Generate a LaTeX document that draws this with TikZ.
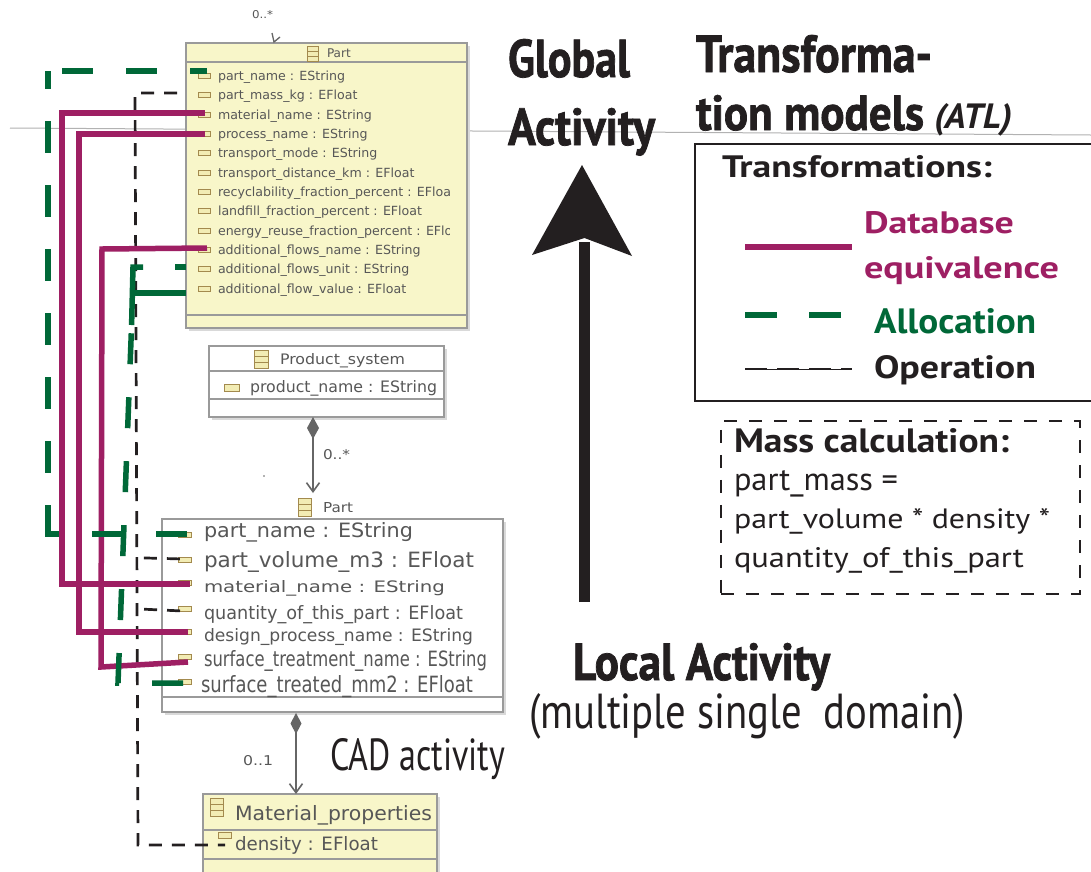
\documentclass[tikz,border=0pt]{standalone}
\usepackage{fontspec}
\usepackage{graphicx}
\setmainfont{DejaVu Sans}
\newfontfamily\umlf{DejaVu Sans}
\newfontfamily\myr{PT Sans}
\newfontfamily\myrh[BoldFeatures={FakeBold=1.5}]{PT Sans}
\usetikzlibrary{arrows.meta,calc,shadows}
\definecolor{dbmag}{HTML}{9E1F63}
\definecolor{algreen}{HTML}{006838}
\definecolor{umlyel}{HTML}{F8F6C9}
\definecolor{umlgray}{HTML}{9A9A9A}
\definecolor{umltext}{HTML}{575757}
\definecolor{iconfill}{HTML}{F2ECB4}
\definecolor{iconedge}{HTML}{A38A4E}
\definecolor{inkblack}{HTML}{231F20}
\newcommand\fitt[3]{\resizebox{#1pt}{#2pt}{#3}}
\begin{document}
\begin{tikzpicture}[x=1pt,y=-1pt,
 txt/.style={anchor=base west, inner sep=0pt, outer sep=0pt},
 uml/.style={txt, text=umltext, font=\umlf\fontsize{12.6}{14}\selectfont},
 umlbox/.style={draw=umlgray, line width=1.6pt, anchor=north west, inner sep=0pt, outer sep=0pt,
   drop shadow={shadow xshift=2.5pt, shadow yshift=-2.5pt, fill=black!15, opacity=1}},
 umlsep/.style={draw=umlgray, line width=1.4pt},
 db/.style={draw=dbmag, line width=5.5pt},
 alloc/.style={draw=algreen, line width=5.5pt, dash pattern=on 31pt off 33pt},
 allocsolid/.style={draw=algreen, line width=5.5pt},
 op/.style={draw=inkblack, line width=2.7pt, dash pattern=on 13pt off 10pt},
 assoc/.style={draw=black!60, line width=1.6pt},
 big/.style={txt, text=inkblack, font=\myr\bfseries},
 heavy/.style={txt, text=inkblack, font=\myrh\bfseries},
 reg/.style={txt, text=inkblack, font=\myr},
 attricon/.pic={\draw[fill=iconfill, draw=iconedge, line width=0.9pt] (-6,-2.8) rectangle (6,2.8);},
 classicon/.pic={\draw[fill=iconfill, draw=iconedge, line width=0.9pt] (-5.5,-7.5) rectangle (5.5,7.5);
   \draw[draw=iconedge, line width=0.9pt] (-5.5,-2.5) -- (5.5,-2.5) (-5.5,2.5) -- (5.5,2.5);}
]
\clip (0,0) rectangle (1091,871);
\fill[white] (0,0) rectangle (1091,871);

% background thin line
\draw[black!30, line width=1pt] (10,128) -- (1091,135);

% ---------- top Part box ----------
\node[umlbox, fill=umlyel, minimum width=281pt, minimum height=285pt] (topPart) at (186,43) {};
\draw[umlsep] (186,62) -- (467,62);
\draw[umlsep] (186,315) -- (467,315);
\pic at (312.5,53.5) {classicon};
\node[uml, font=\umlf\fontsize{12}{14}\selectfont] (tHdr) at (327,57) {Part};
\begin{scope}
\clip (187,63) rectangle (449,314);
\node[uml] (t1) at (218,80) {part\_name : EString};
\node[uml] (t2) at (218,99) {part\_mass\_kg : EFloat};
\node[uml] (t3) at (218,119) {material\_name : EString};
\node[uml] (t4) at (218,138) {process\_name : EString};
\node[uml] (t5) at (218,157) {transport\_mode : EString};
\node[uml] (t6) at (218,177) {transport\_distance\_km : EFloat};
\node[uml] (t7) at (218,196) {recyclability\_fraction\_percent : EFloat};
\node[uml] (t8) at (218,215) {landfill\_fraction\_percent : EFloat};
\node[uml] (t9) at (218,235) {energy\_reuse\_fraction\_percent : EFloat};
\node[uml] (t10) at (218,254) {additional\_flows\_name : EString};
\node[uml] (t11) at (218,273) {additional\_flows\_unit : EString};
\node[uml] (t12) at (218,293) {additional\_flow\_value : EFloat};
\end{scope}
\foreach \yy in {76,95,115,134,153,173,192,211,231,250,269,289}{\pic at (204,\yy) {attricon};}

% ---------- Product_system ----------
\node[umlbox, fill=white, minimum width=235pt, minimum height=71pt] (prodSys) at (209,346) {};
\draw[umlsep] (209,371) -- (444,371);
\draw[umlsep] (209,399) -- (444,399);
\pic[scale=1.2] at (261.5,359) {classicon};
\node[uml] (psHdr) at (280,364) {\fitt{125}{11}{Product\_system}};
\pic[scale=1.25] at (231.5,388) {attricon};
\node[uml] (psAttr) at (250,392) {\fitt{187}{12}{product\_name : EString}};

% ---------- lower Part ----------
\node[umlbox, fill=white, line width=1.3pt, minimum width=341pt, minimum height=193pt] (lowPart) at (162,519) {};
\draw[umlsep, line width=1.2pt] (162,697) -- (503,697);
\pic[scale=1.2] at (305,507) {classicon};
\node[uml] (lpHdr) at (323,512) {\fitt{30}{10}{Part}};
\node[uml] (b1) at (204,537) {\fitt{209}{15}{part\_name : EString}};
\node[uml] (b2) at (204,567) {\fitt{270}{16}{part\_volume\_m3 : EFloat}};
\node[uml] (b3) at (204,592) {\fitt{241}{12}{material\_name : EString}};
\node[uml] (b4) at (204,619) {\fitt{259}{14}{quantity\_of\_this\_part : EFloat}};
\node[uml] (b5) at (204,641) {\fitt{269}{13}{design\_process\_name : EString}};
\node[uml] (b6) at (204,666) {\fitt{283}{16}{surface\_treatment\_name : EString}};
\node[uml] (b7) at (201,692) {\fitt{272}{17}{surface\_treated\_mm2 : EFloat}};
\foreach \yy in {535,560,583,609,632,657,682}{\pic[xscale=1.15] at (185,\yy) {attricon};}

% ---------- Material_properties ----------
\node[umlbox, fill=umlyel, minimum width=234pt, minimum height=95pt] (matProp) at (203,794) {};
\draw[umlsep] (203,830) -- (437,830);
\draw[umlsep] (203,859) -- (437,859);
\pic[scale=1.25] at (217,807.5) {classicon};
\node[uml] (mpHdr) at (235,820) {\fitt{197}{15}{Material\_properties}};
\pic[xscale=1.15] at (225,835.5) {attricon};
\node[uml] (mpAttr) at (235,850) {\fitt{143}{14}{density : EFloat}};

% ---------- associations ----------
\coordinate (psBot) at (313,417);
\coordinate (lpTop) at (313,493);
\draw[assoc, {Diamond[length=22pt,width=12pt]}-{Straight Barb[length=9pt,width=13pt]}] (psBot) -- (lpTop);
\coordinate (lpBot) at (296,713);
\coordinate (mpTop) at (296,794);
\draw[assoc, {Diamond[length=21pt,width=11pt]}-{Straight Barb[length=9pt,width=13pt]}] (lpBot) -- (mpTop);
\coordinate (topArrA) at (272,33);
\coordinate (topArrTip) at (274,42);
\coordinate (topArrB) at (280,37);
\draw[assoc, line width=1.3pt] (topArrA) -- (topArrTip) -- (topArrB);
\node[uml] (m1) at (252,18) {\fitt{21}{8}{0..*}};
\node[uml] (m2) at (323,459) {\fitt{27}{10}{0..*}};
\node[uml] (m3) at (243,765) {\fitt{30}{10}{0..1}};
\fill[black!60] (264,476) circle (0.9);

% ---------- transformation connectors ----------
\coordinate (tPN) at (207,71);
\coordinate (tMK) at (177,93);
\coordinate (tMat) at (205,113);
\coordinate (tProc) at (205,134);
\coordinate (tAFN) at (207,248);
\coordinate (tAFU) at (186,267);
\coordinate (tAFV) at (186,293);
\coordinate (bPN) at (187,534);
\coordinate (bVol) at (183,559);
\coordinate (bMat) at (190,584);
\coordinate (bQty) at (183,611);
\coordinate (bDes) at (188,632);
\coordinate (bSTN) at (188,662);
\coordinate (bSTM) at (183,683);
\coordinate (mDen) at (225,845);
\coordinate (opA) at (135,93);
\coordinate (opB) at (138,845);
\coordinate (alO1) at (48,71);
\coordinate (alO2) at (48,534);
\coordinate (alO3) at (62,71);
\coordinate (alI1) at (133,267);
\coordinate (alI2) at (131.6,325);
\coordinate (alI3) at (118,683);

% operation (black dashed)
\draw[op] (tMK) -- (opA) -- (opB) -- (mDen);
\draw[op, dash phase=16pt] ($(opA)!0.618!(opB)$) -- (bVol);
\draw[op, dash phase=16pt] ($(opA)!0.686!(opB)$) -- (bQty);

% database equivalence (magenta)
\draw[db] (tMat) -- (62,113) |- (bMat);
\draw[db] (tProc) -- (79,134) |- (bDes);
\draw[db] (tAFN) -- (102,249) -- (101,667) -- (bSTN);

% allocation (green dashed), outer
\draw[alloc] (bPN) -- ($(alO2)+(-2.75,0)$);
\draw[alloc, dash pattern=on 32pt off 32pt] ($(alO2)+(0,2.75)$) -- (alO1);
\draw[alloc] (alO3) -- (tPN);
% allocation, inner
\draw[alloc] (bSTM) -- (alI3) -- (alI2);
\draw[allocsolid] (143,267) -- (alI1) -- (alI2);
\draw[allocsolid] (175,267) -- (tAFU);
\draw[allocsolid] (tAFV) -- (132.5,293);

% ---------- right side ----------
\node[heavy] (glob1) at (508,77) {\fitt{122}{38}{Global}};
\node[heavy] (glob2) at (508,145) {\fitt{147}{37}{Activity}};
\node[heavy] (tr1) at (696,72) {\fitt{236}{37}{Transforma-}};
\node[heavy] (tr2) at (696,130) {\fitt{228}{35}{tion models}};
\node[txt, text=inkblack, font=\myr\bfseries\itshape] (atl) at (934,128) {\fitt{78}{25}{(ATL)}};

\coordinate (arrBase) at (584.5,602);
\coordinate (arrNeck) at (584.5,242);
\draw[inkblack, line width=11pt] (arrBase) -- (arrNeck);
\fill[inkblack] (582,165) -- (632,256) -- (584.5,238) -- (532,255) -- cycle;

\node[draw=inkblack, line width=1.8pt, anchor=north west, minimum width=420pt, minimum height=257pt, inner sep=0pt] (legend) at (694,143) {};
\node[big] (trHdr) at (722,177) {\fitt{270}{22}{Transformations:}};
\coordinate (lgDbA) at (745,247);
\coordinate (lgDbB) at (852,247);
\draw[db] (lgDbA) -- (lgDbB);
\node[txt, text=dbmag, font=\myr\bfseries] (dbT1) at (864,233) {\fitt{150}{22}{Database}};
\node[txt, text=dbmag, font=\myr\bfseries] (dbT2) at (864,278) {\fitt{195}{22}{equivalence}};
\coordinate (lgAlA) at (745,315);
\coordinate (lgAlB) at (841,315);
\draw[alloc, dash pattern=on 32pt off 32pt] (lgAlA) -- (lgAlB);
\node[txt, text=algreen, font=\myr\bfseries] (alT) at (874,333) {\fitt{162}{25}{Allocation}};
\coordinate (lgOpA) at (745,369);
\coordinate (lgOpB) at (852,369);
\draw[inkblack, line width=0.8pt] (lgOpA) -- (lgOpB);
\draw[inkblack, line width=2pt, dash pattern=on 22pt off 10pt] (lgOpA) -- (lgOpB);
\node[big] (opT) at (874,378) {\fitt{162}{23}{Operation}};

\node[draw=inkblack, line width=1.8pt, dash pattern=on 13pt off 12pt, anchor=north west, minimum width=359pt, minimum height=173pt, inner sep=0pt] (massBox) at (720,420) {};
\node[big] (mc1) at (734,452) {\fitt{275}{24}{Mass calculation:}};
\node[reg] (mc2) at (734,490) {\fitt{164}{20}{part\_mass =}};
\node[reg] (mc3) at (734,528) {\fitt{316}{20}{part\_volume * density *}};
\node[reg] (mc4) at (734,567) {\fitt{290}{20}{quantity\_of\_this\_part}};

\node[heavy] (loc1) at (573,680) {\fitt{257}{37}{Local Activity}};
\node[reg] (loc2) at (529,728) {\fitt{436}{35}{(multiple single\ \ domain)}};
\node[reg] (cad) at (330,770) {\fitt{175}{32}{CAD activity}};
\end{tikzpicture}
\end{document}
